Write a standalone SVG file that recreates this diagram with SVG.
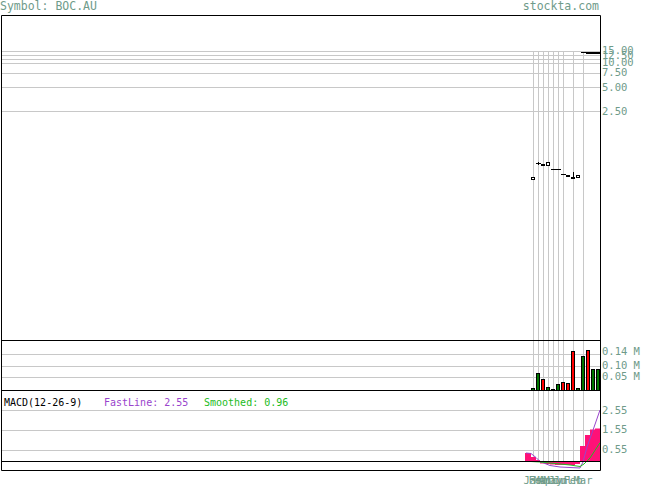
<svg xmlns="http://www.w3.org/2000/svg" width="655" height="486" viewBox="0 0 655 486">
<style>
.bg{fill:#ffffff}
.frame{stroke:#000000;stroke-width:1;fill:none}
.grid{stroke:#c8c8c8;stroke-width:1;fill:none}
.lbl{font-family:"DejaVu Sans Mono","Liberation Mono",monospace;font-size:10.5px;fill:#6f9b8a}
.title{font-family:"DejaVu Sans Mono","Liberation Mono",monospace;font-size:11.5px;fill:#6f9b8a}
.mt{font-family:"DejaVu Sans Mono","Liberation Mono",monospace;font-size:10px}
.up{fill:#ffffff;stroke:#000000;stroke-width:1}
.dn{fill:#000000;stroke:#000000;stroke-width:1}
.tick{stroke:#000000;stroke-width:1}
.vg{fill:#007700;stroke:#000000;stroke-width:1}
.vr{fill:#ff0000;stroke:#000000;stroke-width:1}
.hist{fill:#ff1177}
</style>
<rect class="bg" x="0" y="0" width="655" height="486"/>
<g id="header">
<text class="title" x="0" y="10">Symbol: BOC.AU</text>
<text class="title" x="599" y="10" text-anchor="end">stockta.com</text>
</g>
<g id="price-panel">
<g class="grid">
<path d="M1 51.5H600M1 55.5H600M1 59.5H600M1 63.5H600M1 73.5H600M1 87.5H600M1 111.5H600"/>
<path d="M533.5 51V341M538.5 51V341M543.5 51V341M548.5 51V341M553.5 51V341M558.5 51V341M563.5 51V341M573.5 51V341M583.5 51V341"/>
</g>
<g id="candles">
<rect class="up" x="531.5" y="177.5" width="3" height="2"/>
<path class="tick" d="M536 163.5H541M538.5 162V165"/>
<rect class="dn" x="541.5" y="164.5" width="3" height="1"/>
<rect class="up" x="546.5" y="162.5" width="3" height="3"/>
<path class="tick" d="M551 169.5H561"/>
<path class="tick" d="M561 174.5H566"/>
<rect class="dn" x="566.5" y="175.5" width="3" height="1"/>
<path class="tick" d="M573.5 172V179"/>
<rect class="dn" x="571.5" y="177.5" width="3" height="1"/>
<rect class="up" x="576.5" y="175.5" width="3" height="2"/>
<path class="tick" d="M581 52.5H586"/>
<rect class="dn" x="586.5" y="52.5" width="13" height="1"/>
</g>
<g class="lbl">
<text x="602" y="53.5">15.00</text>
<text x="602" y="58.5">12.50</text>
<text x="602" y="66">10.00</text>
<text x="602" y="76">7.50</text>
<text x="602" y="90.5">5.00</text>
<text x="602" y="114.5">2.50</text>
</g>
</g>
<g id="volume-panel">
<g class="grid">
<path d="M1 354.5H600M1 366.5H600M1 377.5H600"/>
<path d="M533.5 341V390M538.5 341V390M543.5 341V390M548.5 341V390M553.5 341V390M558.5 341V390M563.5 341V390M573.5 341V390M583.5 341V390"/>
</g>
<g id="volume-bars">
<rect class="vg" x="531.5" y="388.5" width="3" height="2"/>
<rect class="vg" x="536.5" y="373.5" width="3" height="17"/>
<rect class="vr" x="541.5" y="379.5" width="3" height="11"/>
<rect class="vg" x="546.5" y="387.5" width="3" height="3"/>
<rect class="vg" x="551.5" y="389.5" width="3" height="1"/>
<rect class="vg" x="556.5" y="384.5" width="3" height="6"/>
<rect class="vr" x="561.5" y="382.5" width="3" height="8"/>
<rect class="vr" x="566.5" y="383.5" width="3" height="7"/>
<rect class="vr" x="571.5" y="351.5" width="3" height="39"/>
<rect class="vg" x="576.5" y="388.5" width="3" height="2"/>
<rect class="vg" x="581.5" y="356.5" width="3" height="34"/>
<rect class="vr" x="586.5" y="350.5" width="3" height="40"/>
<rect class="vg" x="591.5" y="369.5" width="3" height="21"/>
<rect class="vg" x="596.5" y="369.5" width="3" height="21"/>
</g>
<g class="lbl">
<text x="602" y="355">0.14 M</text>
<text x="602" y="368.5">0.10 M</text>
<text x="602" y="380">0.05 M</text>
</g>
</g>
<g id="macd-panel">
<g class="grid">
<path d="M1 410.5H600M1 430.5H600M1 450.5H600"/>
<path d="M533.5 391V461M538.5 391V461M543.5 391V461M548.5 391V461M553.5 391V461M558.5 391V461M563.5 391V461M573.5 391V461M583.5 391V461"/>
</g>
<g id="histogram">
<rect class="hist" x="525" y="453" width="6" height="8"/>
<rect class="hist" x="531" y="457" width="5" height="4"/>
<rect class="hist" x="536" y="460" width="4" height="1"/>
<rect class="hist" x="540" y="461" width="5" height="2.5"/>
<rect class="hist" x="545" y="461" width="5" height="3"/>
<rect class="hist" x="550" y="461" width="5" height="3.5"/>
<rect class="hist" x="555" y="461" width="5" height="4"/>
<rect class="hist" x="560" y="461" width="5" height="4"/>
<rect class="hist" x="565" y="461" width="5" height="4"/>
<rect class="hist" x="570" y="461" width="5" height="4"/>
<rect class="hist" x="575" y="461" width="5" height="3"/>
<rect class="hist" x="580" y="446" width="5" height="15"/>
<rect class="hist" x="585" y="435" width="5" height="26"/>
<rect class="hist" x="590" y="429.5" width="5" height="31.5"/>
<rect class="hist" x="595" y="428.5" width="5" height="32.5"/>
</g>
<polyline fill="none" stroke="#9944cc" stroke-width="1" points="526,453 531,453.5 536,457.5 540,461.5 550,465.5 560,467 570,467.5 580,468 583,462 587,447 592,433 600,410"/>
<polyline fill="none" stroke="#22bb22" stroke-width="1" points="531,461.5 540,462 560,464 570,465 580,466.5 584,464 590,458 600,442.7"/>
<text class="mt" x="4" y="405.5" fill="#000000">MACD(12-26-9)</text>
<text class="mt" x="104" y="405.5" fill="#9944cc">FastLine: 2.55</text>
<text class="mt" x="204" y="405.5" fill="#22bb22">Smoothed: 0.96</text>
<g class="lbl">
<text x="602" y="413.5">2.55</text>
<text x="602" y="433">1.55</text>
<text x="602" y="453">0.55</text>
</g>
</g>
<g id="frames" class="frame">
<path d="M1.5 15.5H600.5V470.5H1.5Z"/>
<path d="M1 340.5H601M1 390.5H601M1 461.5H601"/>
</g>
<g id="x-axis" class="lbl" text-anchor="middle">
<text x="533" y="484">Jan</text>
<text x="538" y="484">Feb</text>
<text x="543" y="484">Mar</text>
<text x="548" y="484">Apr</text>
<text x="553" y="484">May</text>
<text x="558" y="484">Jun</text>
<text x="563" y="484">Jul</text>
<text x="573" y="484">Feb</text>
<text x="583" y="484">Mar</text>
</g>
</svg>
